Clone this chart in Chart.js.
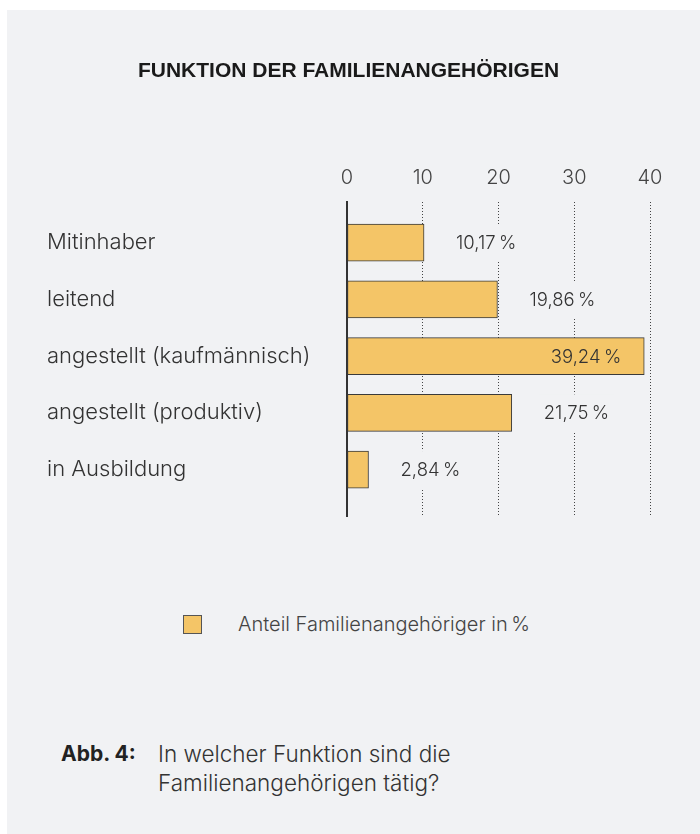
<!DOCTYPE html>
<html>
  <head>
    <title>Funktion der Familienangehörigen</title>
    <style>
      body { margin: 0; background: #ffffff; font-family: Inter, "Liberation Sans", sans-serif; }
      #panel { position: absolute; left: 7px; top: 10px; width: 693px; height: 824px; background: #f1f2f4; }
      #chartBox { position: absolute; left: 0; top: 0; width: 700px; height: 560px; }
      #legend { position: absolute; left: 183px; top: 611px; font-size: 20px; color: #444; font-weight: 300; }
      #legend .box { position: absolute; left: 0; top: 4px; width: 17px; height: 17px; background: #f4c567; border: 1px solid #555; }
      #legend .txt { position: absolute; left: 55px; top: 0; white-space: nowrap; line-height: 26px; }
      #caption { position: absolute; left: 61px; top: 739px; font-size: 22.5px; line-height: 29px; color: #333; font-weight: 300; }
      #caption b { position: absolute; left: 0; top: 0; font-size: 21px; font-weight: 700; color: #222; white-space: nowrap; }
      #caption span { position: absolute; left: 97px; top: 0; white-space: nowrap; }
    </style>
  </head>
  <script src="https://cdn.jsdelivr.net/npm/chart.js@4"></script>
  <body>
    <div id="panel"></div>
    <div id="chartBox"><canvas id="myChart"></canvas></div>

    <div id="legend"><div class="box"></div><div class="txt">Anteil Familienangehöriger in&#8201;%</div></div>
    <div id="caption"><b>Abb. 4:</b><span>In welcher Funktion sind die<br>Familienangehörigen tätig?</span></div>

    <script>
      const categories = ["Mitinhaber", "leitend", "angestellt (kaufmännisch)", "angestellt (produktiv)", "in Ausbildung"]
      const shares = [10.17, 19.86, 39.24, 21.75, 2.84]
      const xTicks = [0, 10, 20, 30, 40]
      const seriesName = "Anteil Familienangehöriger in %"

      const panelColor = "#f1f2f4"

      // German number format for the labels next to the bars
      function fmt(v){
        return v.toFixed(2).replace('.', ',') + '\u2009%'
      }

      const valueLabels = {
        id: 'valueLabels',
        afterDatasetsDraw(chart){
          const ctx = chart.ctx
          const meta = chart.getDatasetMeta(0)
          ctx.save()
          ctx.font = '300 18.5px Inter, "Liberation Sans", sans-serif'
          ctx.textBaseline = 'middle'
          meta.data.forEach((bar, i) => {
            const text = fmt(shares[i])
            const w = ctx.measureText(text).width
            if (shares[i] > 30) {
              ctx.textAlign = 'right'
              ctx.fillStyle = '#333'
              ctx.fillText(text, bar.x - 23, bar.y + 1)
            } else {
              const tx = bar.x + 32
              // hide the dotted grid lines behind the label
              ctx.fillStyle = panelColor
              ctx.fillRect(tx - 5, bar.y - bar.height / 2, w + 10, bar.height)
              ctx.textAlign = 'left'
              ctx.fillStyle = '#333'
              ctx.fillText(text, tx, bar.y + 1)
            }
          })
          ctx.restore()
        }
      }

      new Chart("myChart", {
        type: "bar",
        data: {
          datasets: [{
            label: seriesName,
            data: shares.map((v, i) => ({ x: v, y: i })),
            backgroundColor: "#f4c567",
            borderColor: "#3a3a3a",
            borderWidth: 1,
            borderSkipped: false,
            barThickness: 37
          }]
        },
        plugins: [valueLabels],
        options: {
          indexAxis: 'y',
          responsive: true,
          maintainAspectRatio: false,
          animation: false,
          layout: { padding: { left: 47, right: 50, top: 0, bottom: 44 } },
          plugins: {
            legend: { display: false },
            tooltip: { enabled: false },
            title: {
              display: true,
              text: "FUNKTION DER FAMILIENANGEHÖRIGEN",
              color: "#1a1a1a",
              font: { family: '"Liberation Sans", Arial, sans-serif', size: 21, weight: 'bold' },
              padding: { top: 59, bottom: 68 }
            }
          },
          scales: {
            x: {
              type: 'linear',
              position: 'top',
              min: xTicks[0],
              max: xTicks[xTicks.length - 1],
              afterBuildTicks: (scale) => { scale.ticks = xTicks.map(v => ({ value: v })) },
              afterFit: (scale) => { scale.height = 50 },
              border: { display: false, dash: [1, 2] },
              grid: {
                drawTicks: false,
                color: (c) => c.tick && c.tick.value === 0 ? 'rgba(0,0,0,0)' : '#444',
                lineWidth: 1
              },
              ticks: {
                padding: 12,
                color: '#444',
                font: { family: 'Inter, "Liberation Sans", sans-serif', size: 20, weight: 300 }
              }
            },
            y: {
              type: 'linear',
              reverse: true,
              offset: false,
              min: -0.714,
              max: 4.819,
              afterFit: (scale) => { scale.width = 300 },
              border: { display: true, color: '#333', width: 2 },
              grid: { display: false, offset: false },
              ticks: {
                stepSize: 1,
                includeBounds: false,
                crossAlign: 'far',
                color: '#333',
                font: { family: 'Inter, "Liberation Sans", sans-serif', size: 22, weight: 300 },
                callback: (v) => categories[v] !== undefined ? categories[v] : ''
              }
            }
          }
        }
      })
    </script>
  </body>
</html>
